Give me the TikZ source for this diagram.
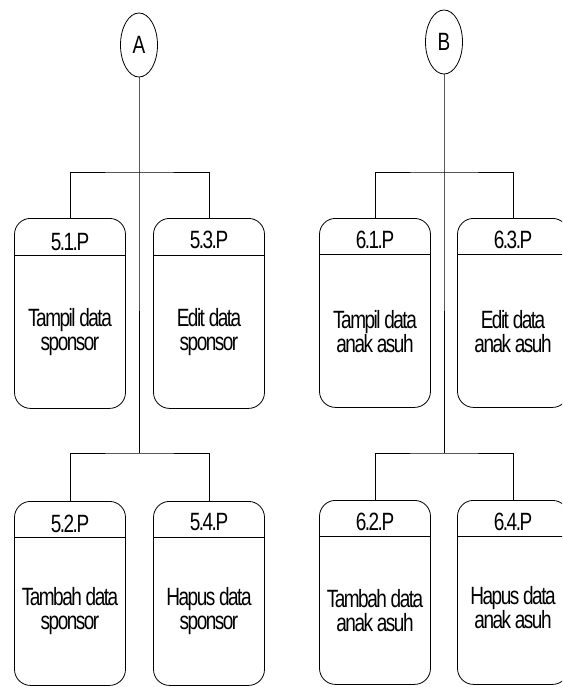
\documentclass[tikz,border=0pt]{standalone}
\usepackage{fontspec}
\setmainfont{Liberation Sans}
\newfontfamily\dfdfont[FakeStretch=0.76,LetterSpace=-6]{Liberation Sans}
\usetikzlibrary{shapes.geometric,positioning}

\begin{document}
\begin{tikzpicture}[x=1pt, y=-1pt, line width=0.8pt,
        proses/.style={draw, rounded corners=16pt, minimum width=111pt, inner sep=0pt, anchor=north},
        terminal/.style={draw, ellipse, minimum width=37pt, minimum height=64pt, inner sep=0pt},
        every node/.append style={font=\dfdfont\fontsize{25}{24}\selectfont}]
    \useasboundingbox (0,0) rectangle (562,687);
    \clip (0,0) rectangle (562,687);

    % bagian A
    \node[terminal] (A) at (139,45) {A};
    \coordinate (jA1) at (139,172);
    \coordinate (jA2) at (139,453);
    \node[proses, minimum height=190pt] (p51) at (70,218) {};
    \node[proses, minimum height=190pt] (p53) at (209,218) {};
    \node[proses, minimum height=184pt] (p52) at (70,501) {};
    \node[proses, minimum height=184pt] (p54) at (209,501) {};

    % bagian B
    \node[terminal] (B) at (444,42) {B};
    \coordinate (jB1) at (444,172);
    \coordinate (jB2) at (444,453);
    \node[proses, minimum height=189pt] (p61) at (375,218) {};
    \node[proses, minimum height=189pt] (p63) at (513,218) {};
    \node[proses, minimum height=184pt] (p62) at (375,500) {};
    \node[proses, minimum height=184pt] (p64) at (513,500) {};

    % garis judul proses
    \draw ([yshift=-37pt]p51.north west) -- ([yshift=-37pt]p51.north east);
    \draw ([yshift=-37pt]p53.north west) -- ([yshift=-37pt]p53.north east);
    \draw ([yshift=-36pt]p52.north west) -- ([yshift=-36pt]p52.north east);
    \draw ([yshift=-36pt]p54.north west) -- ([yshift=-36pt]p54.north east);
    \draw ([yshift=-36pt]p61.north west) -- ([yshift=-36pt]p61.north east);
    \draw ([yshift=-36pt]p63.north west) -- ([yshift=-36pt]p63.north east);
    \draw ([yshift=-36pt]p62.north west) -- ([yshift=-36pt]p62.north east);
    \draw ([yshift=-36pt]p64.north west) -- ([yshift=-36pt]p64.north east);

    % nomor proses
    \node (n51) at ([yshift=-24pt]p51.north) {5.1.P};
    \node (n53) at ([yshift=-22pt]p53.north) {5.3.P};
    \node (n52) at ([yshift=-23pt]p52.north) {5.2.P};
    \node (n54) at ([yshift=-21pt]p54.north) {5.4.P};
    \node (n61) at ([yshift=-22pt]p61.north) {6.1.P};
    \node (n63) at ([yshift=-22pt]p63.north) {6.3.P};
    \node (n62) at ([yshift=-22pt]p62.north) {6.2.P};
    \node (n64) at ([yshift=-22pt]p64.north) {6.4.P};

    % nama proses
    \begin{scope}[every node/.append style={align=center}]
        \node (t51) at ([yshift=-114pt]p51.north) {Tampil data\\sponsor};
        \node (t53) at ([yshift=-114pt]p53.north) {Edit data\\sponsor};
        \node (t52) at ([yshift=-110pt]p52.north) {Tambah data\\sponsor};
        \node (t54) at ([yshift=-110pt]p54.north) {Hapus data\\sponsor};
        \node (t61) at ([yshift=-114pt]p61.north) {Tampil data\\anak asuh};
        \node (t63) at ([yshift=-114pt]p63.north) {Edit data\\anak asuh};
        \node (t62) at ([yshift=-111pt]p62.north) {Tambah data\\anak asuh};
        \node (t64) at ([yshift=-108pt]p64.north) {Hapus data\\anak asuh};
    \end{scope}

    % hubungan
    \draw (A.south) -- (jA1) -- (jA2);
    \draw (p51.north) |- (jA1) -| (p53.north);
    \draw (p52.north) |- (jA2) -| (p54.north);
    \draw (B.south) -- (jB1) -- (jB2);
    \draw (p61.north) |- (jB1) -| (p63.north);
    \draw (p62.north) |- (jB2) -| (p64.north);
\end{tikzpicture}
\end{document}
